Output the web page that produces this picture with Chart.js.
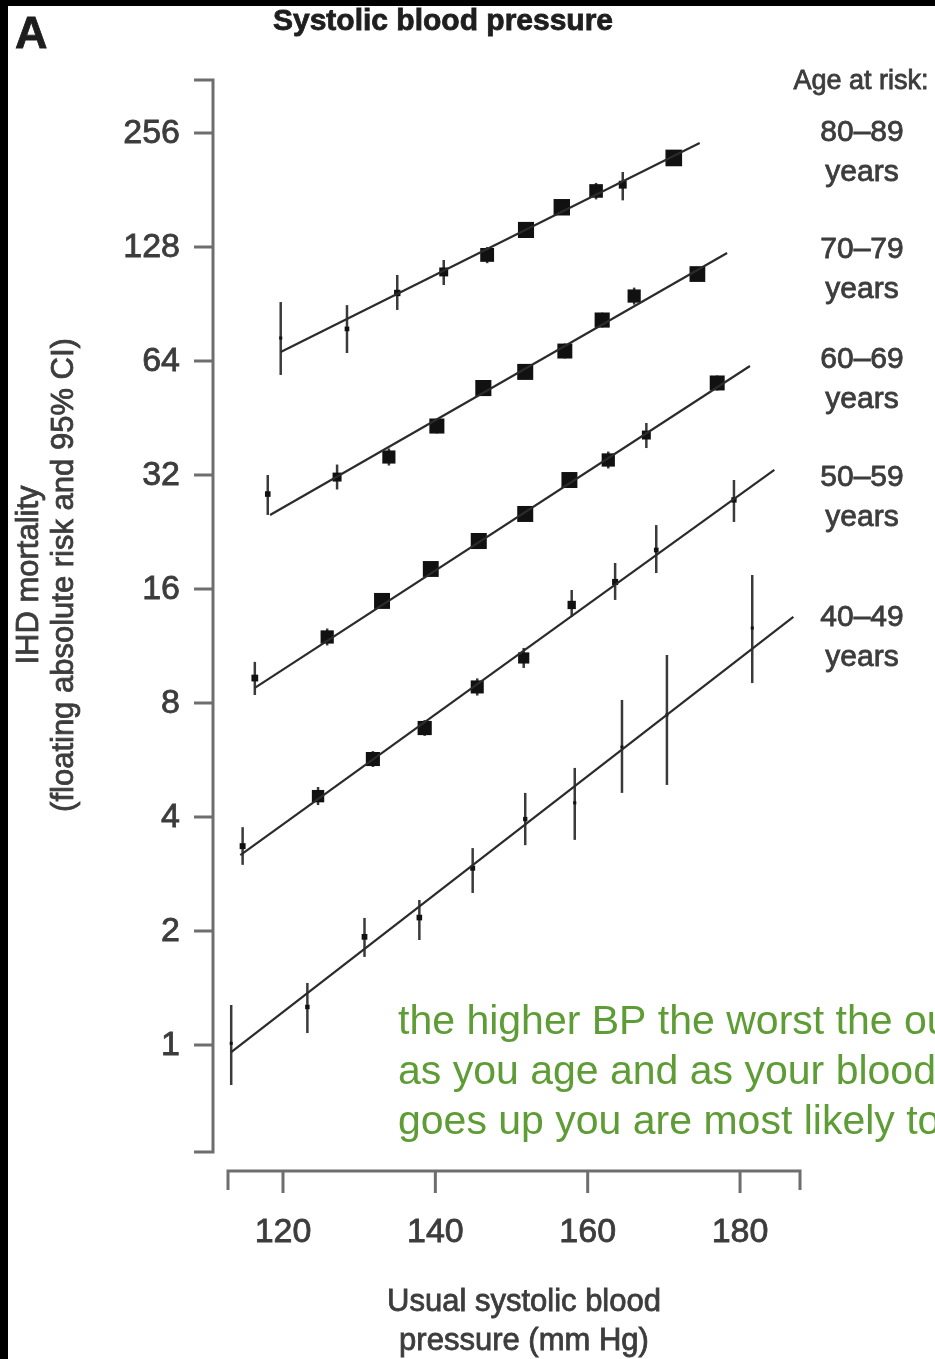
<!DOCTYPE html>
<html>
<head>
<meta charset="utf-8">
<title>Systolic blood pressure</title>
<script src="https://cdn.jsdelivr.net/npm/chart.js@4.4.1/dist/chart.umd.min.js"></script>
<style>
  html, body { margin: 0; padding: 0; background: #fff; }
  #wrap { width: 935px; height: 1359px; }
</style>
</head>
<body>
<div id="wrap"><canvas id="grafico" width="935" height="1359"></canvas></div>
<script>
// Axis ranges and ticks
const xAxisMin = 112.78, xAxisMax = 187.87;
const yAxisMin = 0.5216, yAxisMax = 353.4;
const xTicks = [120, 140, 160, 180];
const yTicks = [1, 2, 4, 8, 16, 32, 64, 128, 256];

const ageGroups = ['80–89', '70–79', '60–69', '50–59', '40–49'];

// 80-89 years
const sbp_80 = [119.7, 128.4, 135.0, 141.1, 146.8, 151.9, 156.6, 161.1, 164.6, 171.3];
const risk_80 = [73.6, 77.8, 96.8, 110, 122, 142, 163, 180, 187, 220];
const ciLow_80 = [58.8, 67.2, 87.3, 101.6, 116, 136, 156.5, 171, 170, 211];
const ciHigh_80 = [91.6, 89.9, 108, 118.3, 128, 148, 170, 189, 202, 229];
const fitX_80 = [119.7, 174.7], fitY_80 = [67.6, 241];

// 70-79 years
const sbp_70 = [118.0, 127.1, 133.9, 140.2, 146.3, 151.8, 157.0, 161.9, 166.1, 174.4];
const risk_70 = [28.5, 31.6, 35.7, 43.1, 54.3, 59.9, 68.0, 82.1, 95.0, 108.6];
const ciLow_70 = [25.1, 29.3, 33.9, 41.2, 52.1, 57.4, 65.0, 78.5, 90.2, 104];
const ciHigh_70 = [32, 34.1, 37.6, 45.1, 56.7, 62.5, 71.2, 85.9, 100, 113.4];
const fitX_70 = [118.3, 178.3], fitY_70 = [25.1, 123.4];

// 60-69 years
const sbp_60 = [116.3, 125.8, 133.0, 139.4, 145.7, 151.8, 157.6, 162.7, 167.7, 177.0];
const risk_60 = [9.31, 11.95, 14.88, 18.07, 21.42, 25.25, 31.04, 35.06, 40.8, 56.0];
const ciLow_60 = [8.40, 11.35, 14.25, 17.31, 20.53, 24.19, 29.75, 33.3, 37.7, 53.5];
const ciHigh_60 = [10.27, 12.58, 15.52, 18.86, 22.35, 26.34, 32.4, 36.9, 43.9, 58.6];
const fitX_60 = [116.3, 181.3], fitY_60 = [8.77, 62.1];

// 50-59 years
const sbp_50 = [114.7, 124.6, 131.8, 138.6, 145.5, 151.6, 157.9, 163.6, 169.0, 179.2];
const risk_50 = [3.35, 4.54, 5.69, 6.87, 8.82, 10.52, 14.52, 16.7, 20.28, 27.5];
const ciLow_50 = [2.99, 4.30, 5.42, 6.55, 8.37, 9.90, 13.5, 14.97, 17.63, 24.05];
const ciHigh_50 = [3.76, 4.80, 5.97, 7.21, 9.29, 11.18, 15.9, 18.74, 23.6, 31.04];
const fitX_50 = [114.4, 184.5], fitY_50 = [3.17, 33.0];

// 40-49 years
const sbp_40 = [113.2, 123.2, 130.7, 137.9, 144.9, 151.8, 158.3, 164.5, 170.4, 181.6];
const risk_40 = [1.01, 1.26, 1.93, 2.17, 2.93, 3.95, 4.36, 6.12, 7.44, 12.62];
const ciLow_40 = [0.784, 1.075, 1.708, 1.893, 2.52, 3.37, 3.48, 4.63, 4.86, 9.03];
const ciHigh_40 = [1.275, 1.458, 2.165, 2.415, 3.31, 4.63, 5.39, 8.15, 10.71, 17.42];
const fitX_40 = [113.2, 187.0], fitY_40 = [0.958, 13.5];

const notaVerde = [
  'the higher BP the worst the outcome',
  'as you age and as your blood pressure',
  'goes up you are most likely to'
];

const FUENTE = '"Liberation Sans", Arial, Helvetica, sans-serif';

// box size ~ inverse of CI width (like the original inverse-variance squares)
function radioCaja(ctx) {
  const ds = ctx.dataset, i = ctx.dataIndex;
  const ys = ctx.chart.scales.y;
  if (!ys || ds.ciLow === undefined) return 2;
  const w = ys.getPixelForValue(ds.ciLow[i]) - ys.getPixelForValue(ds.ciHigh[i]);
  const lado = Math.max(3, Math.min(17, 224 / Math.max(w, 1)));
  return lado / Math.SQRT2;
}

function puntos(xs, ys) {
  return xs.map((x, i) => ({x: x, y: ys[i]}));
}

const grupos = [
  [sbp_80, risk_80, ciLow_80, ciHigh_80, fitX_80, fitY_80],
  [sbp_70, risk_70, ciLow_70, ciHigh_70, fitX_70, fitY_70],
  [sbp_60, risk_60, ciLow_60, ciHigh_60, fitX_60, fitY_60],
  [sbp_50, risk_50, ciLow_50, ciHigh_50, fitX_50, fitY_50],
  [sbp_40, risk_40, ciLow_40, ciHigh_40, fitX_40, fitY_40]
];

const datasets = [];
grupos.forEach((g, k) => {
  datasets.push({
    label: ageGroups[k] + ' fit',
    type: 'line',
    data: puntos(g[4], g[5]),
    borderColor: '#2b2b2b',
    borderWidth: 2.2,
    pointRadius: 0,
    fill: false,
    tension: 0
  });
  datasets.push({
    label: ageGroups[k],
    type: 'scatter',
    data: puntos(g[0], g[1]),
    ciLow: g[2],
    ciHigh: g[3],
    pointStyle: 'rect',
    pointRadius: radioCaja,
    backgroundColor: '#111',
    borderColor: '#111',
    borderWidth: 0
  });
});

// black frame of the scanned figure
const fondo = {
  id: 'fondo',
  beforeDraw(chart) {
    const c = chart.ctx;
    c.save();
    c.fillStyle = '#fff';
    c.fillRect(0, 0, chart.width, chart.height);
    c.fillStyle = '#000';
    c.fillRect(0, 0, chart.width, 6);
    c.fillRect(0, 0, 8, chart.height);
    c.restore();
  }
};

// vertical 95% CI bars
const barrasError = {
  id: 'barrasError',
  beforeDatasetsDraw(chart) {
    const c = chart.ctx, ys = chart.scales.y;
    c.save();
    c.strokeStyle = '#3a3a3a';
    c.lineWidth = 2.5;
    chart.data.datasets.forEach((ds, i) => {
      if (!ds.ciLow) return;
      const meta = chart.getDatasetMeta(i);
      meta.data.forEach((el, j) => {
        c.beginPath();
        c.moveTo(el.x, ys.getPixelForValue(ds.ciLow[j]));
        c.lineTo(el.x, ys.getPixelForValue(ds.ciHigh[j]));
        c.stroke();
      });
    });
    c.restore();
  }
};

// text a bit heavier, like the scanned print
function texto(c, t, x, y) {
  c.strokeText(t, x, y);
  c.fillText(t, x, y);
}

// detached axes, tick labels and all the text
const ejes = {
  id: 'ejes',
  afterDraw(chart) {
    const c = chart.ctx, xs = chart.scales.x, ys = chart.scales.y;
    const ejeX = 213, ejeY = 1171;
    c.save();
    c.strokeStyle = '#6e6e6e';
    c.lineWidth = 3;
    c.lineCap = 'butt';

    // y axis
    const yTop = ys.getPixelForValue(yAxisMax), yBot = ys.getPixelForValue(yAxisMin);
    c.beginPath();
    c.moveTo(ejeX, yTop - 1.5);
    c.lineTo(ejeX, yBot + 1.5);
    [yAxisMax, yAxisMin].concat(yTicks).forEach(v => {
      const p = ys.getPixelForValue(v);
      c.moveTo(ejeX, p);
      c.lineTo(ejeX - 19, p);
    });
    c.stroke();

    // x axis
    const xL = xs.getPixelForValue(xAxisMin), xR = xs.getPixelForValue(xAxisMax);
    c.beginPath();
    c.moveTo(xL - 1.5, ejeY);
    c.lineTo(xR + 1.5, ejeY);
    c.moveTo(xL, ejeY); c.lineTo(xL, ejeY + 19);
    c.moveTo(xR, ejeY); c.lineTo(xR, ejeY + 19);
    xTicks.forEach(v => {
      const p = xs.getPixelForValue(v);
      c.moveTo(p, ejeY);
      c.lineTo(p, ejeY + 22);
    });
    c.stroke();

    // tick labels
    c.fillStyle = '#3c3c3c';
    c.strokeStyle = '#3c3c3c';
    c.lineWidth = 0.8;
    c.font = '34px ' + FUENTE;
    c.textAlign = 'right';
    c.textBaseline = 'middle';
    yTicks.forEach(v => texto(c, String(v), 180, ys.getPixelForValue(v) + 1));
    c.textAlign = 'center';
    xTicks.forEach(v => texto(c, String(v), xs.getPixelForValue(v), 1233));

    // axis titles
    c.font = '31px ' + FUENTE;
    texto(c, 'Usual systolic blood', 524, 1302);
    texto(c, 'pressure (mm Hg)', 524, 1341);
    c.save();
    c.translate(0, 575);
    c.rotate(-Math.PI / 2);
    texto(c, 'IHD mortality', 0, 29);
    texto(c, '(floating absolute risk and 95% CI)', 0, 64);
    c.restore();

    // panel letter and title
    c.fillStyle = '#1e1e1e';
    c.strokeStyle = '#1e1e1e';
    c.font = 'bold 45px ' + FUENTE;
    c.textAlign = 'left';
    c.textBaseline = 'alphabetic';
    texto(c, 'A', 15, 48);
    c.font = 'bold 30px ' + FUENTE;
    c.textAlign = 'center';
    c.textBaseline = 'middle';
    texto(c, 'Systolic blood pressure', 443, 22);

    // age labels
    c.fillStyle = '#3c3c3c';
    c.strokeStyle = '#3c3c3c';
    c.font = '27px ' + FUENTE;
    texto(c, 'Age at risk:', 861, 82);
    const filas = [133, 250, 360, 478, 618];
    c.font = '30px ' + FUENTE;
    ageGroups.forEach((g, k) => {
      texto(c, g, 862, filas[k]);
      texto(c, 'years', 862, filas[k] + 40);
    });

    // green note
    c.fillStyle = '#5e9c35';
    c.font = '41px ' + FUENTE;
    c.textAlign = 'left';
    c.textBaseline = 'alphabetic';
    notaVerde.forEach((t, k) => c.fillText(t, 398, 1034 + k * 50));
    c.restore();
  }
};

const ctx = document.getElementById('grafico').getContext('2d');
const chart = new Chart(ctx, {
  type: 'scatter',
  data: { datasets: datasets },
  options: {
    responsive: false,
    animation: false,
    devicePixelRatio: 1,
    layout: { padding: { left: 228, right: 135, top: 80, bottom: 207 } },
    plugins: { legend: { display: false }, tooltip: { enabled: false } },
    scales: {
      x: { type: 'linear', display: false, min: xAxisMin, max: xAxisMax },
      y: { type: 'logarithmic', display: false, min: yAxisMin, max: yAxisMax }
    }
  },
  plugins: [fondo, barrasError, ejes]
});
</script>
</body>
</html>
